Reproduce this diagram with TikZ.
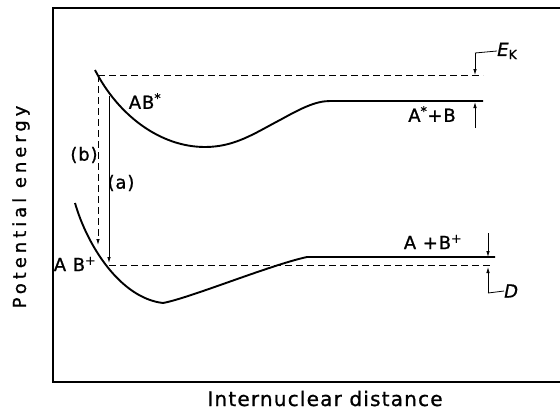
\documentclass[tikz,border=0pt]{standalone}
\usepackage{fontspec}
\setmainfont{DejaVu Sans}
\newfontfamily\lblfont[LetterSpace=5,FakeBold=1]{DejaVu Sans}
\newfontfamily\yaxfont[LetterSpace=22,FakeBold=1]{DejaVu Sans}
\newfontfamily\xaxfont[LetterSpace=6,FakeBold=1]{DejaVu Sans}
\usetikzlibrary{arrows.meta}

\begin{document}
\begin{tikzpicture}[x=1pt,y=-1pt,
    curve/.style={line width=1.9pt,line join=round},
    level/.style={line width=0.9pt,dash pattern=on 7pt off 4pt},
    drop/.style={line width=0.8pt,-{Latex[length=6pt,width=3.5pt]}},
    lbl/.style={font=\lblfont\fontsize{18}{20}\selectfont,inner sep=0pt}]
  \useasboundingbox (0,0) rectangle (560,410);

  % frame (open on the right)
  \draw[line width=1.3pt] (560,8) -- (53,8) -- (53,382) -- (560,382);
  \node[font=\yaxfont\fontsize{18}{20}\selectfont,rotate=90,inner sep=0pt] (yax) at (21,207) {Potential energy};
  \node[font=\xaxfont\fontsize{20}{22}\selectfont,inner sep=0pt,anchor=base] (xax) at (325,406) {Internuclear distance};

  % levels and transition points
  \coordinate (ekL) at (98,75);
  \coordinate (ekR) at (483,75);
  \coordinate (bTip) at (98,245);
  \coordinate (aTop) at (109,96);
  \coordinate (aTip) at (109,263);
  \coordinate (dL) at (109,265);
  \coordinate (dR) at (493,265);

  % upper curve AB*
  \draw[curve] (95,70) .. controls (118,115) and (160,147) .. (205,147)
    .. controls (235,147) and (255,133) .. (280,120)
    .. controls (300,109) and (315,101) .. (330,101) -- (483,101);
  % lower curve AB+
  \draw[curve] (75,203) .. controls (87,245) and (120,298) .. (163,303)
    .. controls (190,298) and (270,265) .. (307,257) -- (495,257);

  \draw[level] (ekL) -- (ekR);
  \draw[level] (dL) -- (dR);
  \draw[drop,dash pattern=on 7pt off 4pt] (ekL) -- (bTip);
  \draw[drop] (aTop) -- (aTip);

  \node[lbl] (abstar) at (145,101) {AB\textsuperscript{*}};
  \node[lbl] (astarb) at (432,114) {A\textsuperscript{*}+B};
  \node[lbl] (abplus) at (75,264) {A B\textsuperscript{+}};
  \node[lbl] (aplusb) at (433,242) {A +B\textsuperscript{+}};
  \node[lbl] (b) at (84,155) {(b)};
  \node[lbl] (a) at (121,183) {(a)};

  % E_K marker
  \coordinate (ekC) at (475,53);
  \coordinate (ekU) at (475,128);
  \node[lbl,anchor=west] (ek) at (497,51) {\itshape E\textsubscript{\upshape K}};
  \draw[line width=0.8pt] (ek.west) -- (ekC);
  \draw[drop] (ekC) -- (475,75);
  \draw[drop] (ekU) -- (475,102);

  % D marker
  \coordinate (dTop) at (488,233);
  \coordinate (dC) at (488,293);
  \node[lbl,anchor=west,font=\lblfont\fontsize{18}{20}\selectfont\itshape] (d) at (504,291) {D};
  \draw[drop] (dTop) -- (488,257);
  \draw[drop] (dC) -- (488,267);
  \draw[line width=0.8pt] (dC) -- (d.west);
\end{tikzpicture}
\end{document}
